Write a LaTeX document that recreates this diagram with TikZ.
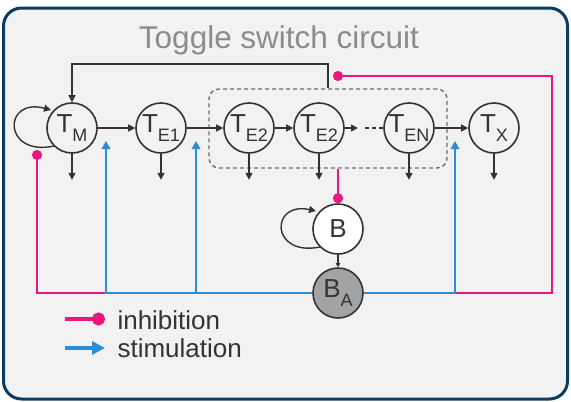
\documentclass[tikz,border=0pt]{standalone}
\usepackage{fontspec}
\setmainfont{Liberation Sans}
\usetikzlibrary{arrows.meta}
\definecolor{pinkc}{HTML}{E8197C}
\definecolor{bluec}{HTML}{2A8ED8}
\definecolor{navy}{HTML}{0B3C61}
\definecolor{bgc}{HTML}{F2F2F2}
\definecolor{linec}{HTML}{333333}
\definecolor{dashc}{HTML}{6E6E6E}
\definecolor{titlec}{HTML}{8C8C8C}
\definecolor{bafill}{HTML}{A3A3A3}
\newcommand{\tsub}[1]{\raisebox{-9pt}{\fontsize{18}{18}\selectfont #1}}
\begin{document}
\begin{tikzpicture}[x=1pt,y=-1pt,
  tnode/.style={circle,draw=linec,line width=1.6pt,fill=bgc,minimum size=50pt,inner sep=0pt,
    text=linec,font=\fontsize{26}{26}\selectfont},
  blk/.style={draw=linec,line width=1.4pt},
  blkarrow/.style={blk,-{Triangle[length=7pt,width=7pt]}},
  smallarrow/.style={blk,-{Triangle[length=4pt,width=4.5pt]}},
  inhib/.style={draw=pinkc,line width=2.6pt,-{Circle[length=10pt]}},
  bluel/.style={draw=bluec,line width=2.6pt},
  stim/.style={bluel,-{Triangle[length=8pt,width=8.5pt]}},
  stimrev/.style={bluel,{Triangle[length=8pt,width=8.5pt]}-},
  leginhib/.style={draw=pinkc,line width=4pt,-{Circle[length=13pt]}},
  legstim/.style={draw=bluec,line width=4pt,-{Triangle[length=13pt,width=13pt]}},
  legtext/.style={anchor=west,text=linec,font=\fontsize{26}{26}\selectfont}
]
\useasboundingbox (0,0) rectangle (571,402);
\fill[white] (0,0) rectangle (571,402);
\draw[navy,line width=3pt,fill=bgc,rounded corners=18pt] (3.5,8) rectangle (567.5,399);

\node[anchor=base,text=titlec,font=\fontsize{31.5}{31.5}\selectfont] (title) at (279,48) {Toggle switch circuit};

% self loops (drawn before nodes)
\coordinate (lpS) at (54,146);
\coordinate (lpE) at (51,110);
\draw[blkarrow] (lpS) .. controls (2.5,157) and (2.5,97) .. (lpE);
\coordinate (lbS) at (320,247);
\coordinate (lbE) at (316,211);
\draw[blkarrow] (lbS) .. controls (270,257) and (270,201) .. (lbE);

% dashed box
\node[draw=dashc,dashed,dash pattern=on 4pt off 3pt,line width=1.4pt,rounded corners=10pt,
  minimum width=238pt,minimum height=79pt,inner sep=0pt] (box) at (328,128.5) {};

% nodes
\node[tnode] (TM)   at (72,128)  {T\tsub{M}};
\node[tnode] (TE1)  at (161,128) {T\tsub{E1}};
\node[tnode] (TE2)  at (249,128) {T\tsub{E2}};
\node[tnode] (TE2b) at (319,128) {T\tsub{E2}};
\node[tnode] (TEN)  at (409,128) {T\tsub{EN}};
\node[tnode] (TX)   at (494,128) {T\tsub{X}};
\node[tnode,fill=white] (B)  at (338,229) {B};
\node[tnode,fill=bafill] (BA) at (338,293) {B\tsub{A}};

% chain arrows
\draw[blkarrow] (TM) -- (TE1);
\draw[blkarrow] (TE1) -- (TE2);
\draw[blkarrow] (TE2) -- (TE2b);
\coordinate (midA) at (358,128);
\coordinate (midB) at (365,128);
\draw[blkarrow] (TE2b) -- (midA);
\draw[blk,dash pattern=on 4pt off 3pt] (midB) -- (TEN);
\draw[blkarrow] (TEN) -- (TX);

% degradation arrows
\foreach \n in {TM,TE1,TE2,TE2b,TEN,TX}{
  \coordinate (d\n) at ([yshift=-26pt]\n.south);
  \draw[blkarrow] (\n.south) -- (d\n);
}

% feedback
\coordinate (fbL) at (72,64);
\draw[blkarrow] (box.north) |- (fbL) -- (TM.north);

% B -> BA
\draw[smallarrow] (B) -- (BA);

% inhibition from box to B
\draw[inhib] (box.south -| B.north) -- (B.north);

% bottom network
\coordinate (bjL) at (106,293);
\coordinate (bj2) at (196,293);
\coordinate (bjR) at (455,293);
\coordinate (s1) at (106,141);
\coordinate (s2) at (196,141);
\coordinate (s3) at (455,141);
\coordinate (pinkL) at (37,293);
\coordinate (dotL) at (37,150);
\coordinate (pinkR) at (552,293);
\coordinate (pinkRT) at (552,76);
\coordinate (dotT) at (333,76);

\draw[inhib] (bjL) -- (pinkL) -- (dotL);
\draw[inhib] (bjR) -- (pinkR) -- (pinkRT) -- (dotT);
\draw[stimrev] (s1) -- (bjL) -- (BA);
\draw[stimrev] (s3) -- (bjR) -- (BA);
\draw[stim] (bj2) -- (s2);

% legend
\coordinate (li1) at (65,319);
\coordinate (li2) at (105,319);
\coordinate (ls1) at (65,348);
\coordinate (ls2) at (105,348);
\draw[leginhib] (li1) -- (li2);
\draw[legstim] (ls1) -- (ls2);
\node[legtext] (leginh) at (114,320) {inhibition};
\node[legtext] (legstim) at (114,348) {stimulation};
\end{tikzpicture}
\end{document}
